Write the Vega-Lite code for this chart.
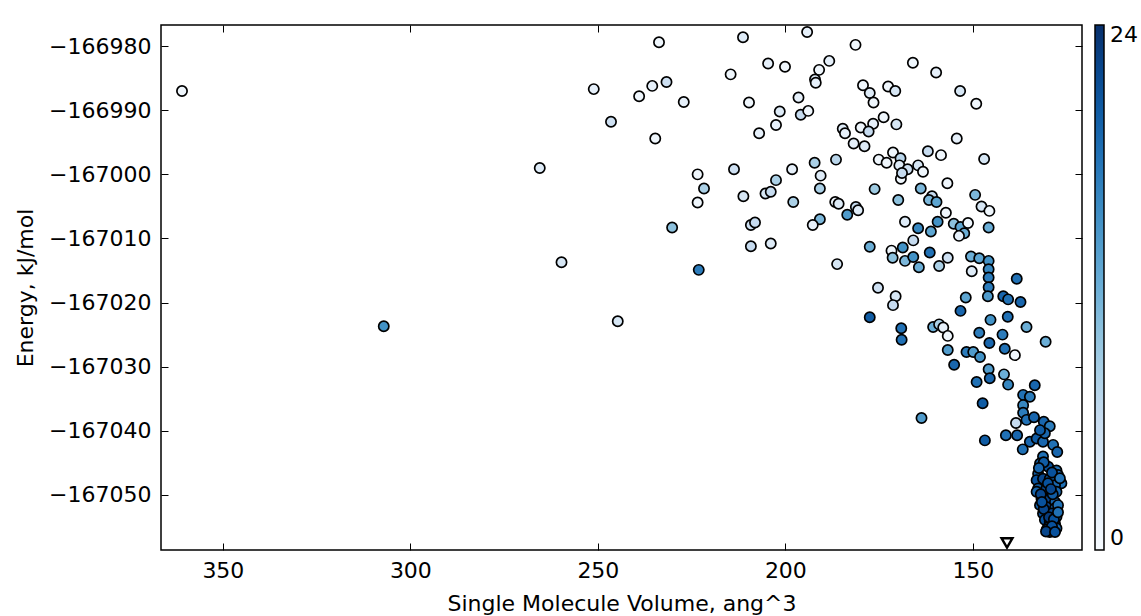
{
  "$schema": "https://vega.github.io/schema/vega-lite/v6.json",
  "width": 921,
  "height": 525,
  "autosize": {"type": "none"},
  "padding": {"left": 161, "top": 25, "right": 59, "bottom": 66},
  "background": "white",
  "config": {
    "view": {"stroke": "black", "strokeWidth": 1.5},
    "axis": {
      "domain": false, "grid": false,
      "tickColor": "black", "tickSize": -7, "tickWidth": 1,
      "labelFont": "DejaVu Sans", "labelFontSize": 22, "labelColor": "black", "labelPadding": 17,
      "titleFont": "DejaVu Sans", "titleFontSize": 22, "titleFontWeight": "normal", "titleColor": "black"
    }
  },
  "datasets": {
    "pts": [
      {"v":360.9,"e":-166987.0,"c":1},{"v":307.1,"e":-167023.7,"c":15},{"v":265.5,"e":-166999.0,"c":3},{"v":259.7,"e":-167013.7,"c":4},
      {"v":244.7,"e":-167022.9,"c":4},{"v":251.1,"e":-166986.7,"c":2},{"v":246.5,"e":-166991.8,"c":5},{"v":239.0,"e":-166987.8,"c":1},
      {"v":235.5,"e":-166986.2,"c":2},{"v":231.7,"e":-166985.6,"c":5},{"v":233.7,"e":-166979.4,"c":1},{"v":227.1,"e":-166988.7,"c":2},
      {"v":234.7,"e":-166994.4,"c":1},{"v":211.3,"e":-166978.6,"c":3},{"v":204.6,"e":-166982.7,"c":2},{"v":214.6,"e":-166984.4,"c":1},
      {"v":209.7,"e":-166988.8,"c":1},{"v":207.0,"e":-166993.6,"c":2},{"v":213.7,"e":-166999.2,"c":5},{"v":223.4,"e":-167000.0,"c":1},
      {"v":221.7,"e":-167002.2,"c":8},{"v":223.4,"e":-167004.4,"c":1},{"v":230.2,"e":-167008.3,"c":10},{"v":223.1,"e":-167014.9,"c":17},
      {"v":211.2,"e":-167003.4,"c":4},{"v":209.2,"e":-167007.9,"c":5},{"v":208.1,"e":-167007.5,"c":6},{"v":209.2,"e":-167011.2,"c":6},
      {"v":203.9,"e":-167010.8,"c":3},{"v":205.3,"e":-167003.0,"c":4},{"v":203.9,"e":-167002.7,"c":6},{"v":202.5,"e":-167000.9,"c":8},
      {"v":194.2,"e":-166977.8,"c":2},{"v":181.3,"e":-166979.8,"c":1},{"v":200.1,"e":-166983.2,"c":1},{"v":188.3,"e":-166982.3,"c":2},
      {"v":191.0,"e":-166983.7,"c":1},{"v":192.1,"e":-166985.2,"c":3},{"v":191.9,"e":-166985.7,"c":2},{"v":166.0,"e":-166982.6,"c":1},
      {"v":196.5,"e":-166988.0,"c":2},{"v":201.5,"e":-166990.2,"c":3},{"v":195.9,"e":-166990.7,"c":6},{"v":193.9,"e":-166990.1,"c":1},
      {"v":202.5,"e":-166992.3,"c":2},{"v":179.3,"e":-166986.1,"c":1},{"v":177.5,"e":-166987.3,"c":3},{"v":176.5,"e":-166988.8,"c":1},
      {"v":172.6,"e":-166986.3,"c":1},{"v":170.7,"e":-166987.0,"c":4},{"v":173.8,"e":-166991.1,"c":1},{"v":170.4,"e":-166992.2,"c":4},
      {"v":176.6,"e":-166992.1,"c":2},{"v":179.9,"e":-166992.7,"c":1},{"v":177.8,"e":-166993.3,"c":6},{"v":184.7,"e":-166992.9,"c":3},
      {"v":184.1,"e":-166993.6,"c":2},{"v":181.8,"e":-166995.2,"c":2},{"v":178.9,"e":-166995.6,"c":3},{"v":192.2,"e":-166998.2,"c":8},
      {"v":186.5,"e":-166997.7,"c":7},{"v":198.2,"e":-166999.2,"c":2},{"v":190.6,"e":-167000.2,"c":3},{"v":175.1,"e":-166997.7,"c":1},
      {"v":173.0,"e":-166998.2,"c":1},{"v":171.3,"e":-166996.6,"c":1},{"v":169.3,"e":-166997.5,"c":7},{"v":169.6,"e":-166998.6,"c":3},
      {"v":167.4,"e":-166999.2,"c":5},{"v":164.6,"e":-166998.6,"c":4},{"v":169.2,"e":-167000.7,"c":1},{"v":168.9,"e":-166999.8,"c":6},
      {"v":159.8,"e":-166984.1,"c":2},{"v":153.4,"e":-166987.0,"c":4},{"v":149.1,"e":-166989.0,"c":1},{"v":154.3,"e":-166994.4,"c":2},
      {"v":162.0,"e":-166996.4,"c":6},{"v":158.5,"e":-166997.0,"c":1},{"v":147.0,"e":-166997.6,"c":4},{"v":163.3,"e":-166999.6,"c":1},
      {"v":190.8,"e":-167002.2,"c":8},{"v":156.8,"e":-167001.4,"c":1},{"v":197.9,"e":-167004.3,"c":8},{"v":186.7,"e":-167004.3,"c":1},
      {"v":185.8,"e":-167004.6,"c":3},{"v":183.5,"e":-167006.3,"c":14},{"v":181.2,"e":-167005.1,"c":6},{"v":180.6,"e":-167005.6,"c":3},
      {"v":190.8,"e":-167007.0,"c":11},{"v":192.7,"e":-167007.9,"c":2},{"v":176.2,"e":-167002.3,"c":9},{"v":169.9,"e":-167004.0,"c":10},
      {"v":163.9,"e":-167002.2,"c":11},{"v":160.9,"e":-167003.4,"c":6},{"v":161.7,"e":-167004.0,"c":11},{"v":159.7,"e":-167004.3,"c":13},
      {"v":157.2,"e":-167006.0,"c":1},{"v":149.4,"e":-167003.2,"c":11},{"v":147.7,"e":-167005.0,"c":4},{"v":145.6,"e":-167005.7,"c":1},
      {"v":145.8,"e":-167008.3,"c":12},{"v":168.1,"e":-167007.4,"c":3},{"v":164.6,"e":-167008.4,"c":16},{"v":161.2,"e":-167008.9,"c":13},
      {"v":159.4,"e":-167007.4,"c":15},{"v":155.1,"e":-167007.7,"c":10},{"v":153.3,"e":-167008.2,"c":13},{"v":152.3,"e":-167009.2,"c":12},
      {"v":153.7,"e":-167009.6,"c":2},{"v":151.3,"e":-167007.6,"c":1},{"v":165.9,"e":-167010.3,"c":6},{"v":168.7,"e":-167011.4,"c":15},
      {"v":171.7,"e":-167011.9,"c":1},{"v":171.4,"e":-167013.0,"c":10},{"v":168.1,"e":-167013.5,"c":11},{"v":165.9,"e":-167012.9,"c":15},
      {"v":164.4,"e":-167014.5,"c":12},{"v":161.5,"e":-167012.2,"c":18},{"v":159.0,"e":-167014.3,"c":8},{"v":156.7,"e":-167013.0,"c":5},
      {"v":150.5,"e":-167012.8,"c":12},{"v":148.3,"e":-167013.1,"c":13},{"v":145.8,"e":-167013.5,"c":15},{"v":145.8,"e":-167014.8,"c":16},
      {"v":145.8,"e":-167016.1,"c":17},{"v":145.8,"e":-167017.6,"c":17},{"v":150.3,"e":-167015.1,"c":3},{"v":138.3,"e":-167016.3,"c":18},
      {"v":146.0,"e":-167019.0,"c":14},{"v":141.9,"e":-167019.0,"c":19},{"v":140.6,"e":-167019.5,"c":18},{"v":137.3,"e":-167019.9,"c":19},
      {"v":151.9,"e":-167019.2,"c":13},{"v":153.3,"e":-167021.3,"c":19},{"v":177.5,"e":-167011.3,"c":12},{"v":186.2,"e":-167014.0,"c":4},
      {"v":175.3,"e":-167017.7,"c":5},{"v":170.6,"e":-167019.0,"c":4},{"v":171.3,"e":-167020.4,"c":6},{"v":177.5,"e":-167022.3,"c":20},
      {"v":169.1,"e":-167024.0,"c":18},{"v":169.0,"e":-167025.8,"c":18},{"v":145.3,"e":-167022.7,"c":15},{"v":140.7,"e":-167022.2,"c":18},
      {"v":135.7,"e":-167023.8,"c":12},{"v":160.6,"e":-167023.8,"c":12},{"v":159.0,"e":-167023.4,"c":8},{"v":157.9,"e":-167023.9,"c":2},
      {"v":156.7,"e":-167025.2,"c":1},{"v":156.7,"e":-167027.4,"c":14},{"v":155.0,"e":-167029.7,"c":19},{"v":148.3,"e":-167024.7,"c":17},
      {"v":130.6,"e":-167026.1,"c":12},{"v":145.6,"e":-167026.3,"c":19},{"v":142.1,"e":-167025.0,"c":17},{"v":151.7,"e":-167027.7,"c":17},
      {"v":149.9,"e":-167027.7,"c":14},{"v":148.1,"e":-167028.5,"c":15},{"v":141.5,"e":-167027.2,"c":18},
      {"v":145.8,"e":-167030.4,"c":14},{"v":141.7,"e":-167031.2,"c":12},{"v":149.0,"e":-167032.4,"c":18},{"v":145.5,"e":-167031.8,"c":19},
      {"v":140.6,"e":-167032.8,"c":16},{"v":133.5,"e":-167032.9,"c":19},{"v":147.4,"e":-167035.7,"c":20},{"v":163.7,"e":-167038.0,"c":14},
      {"v":136.6,"e":-167034.4,"c":18},{"v":134.8,"e":-167034.7,"c":17},{"v":136.6,"e":-167036.0,"c":16},{"v":136.6,"e":-167037.2,"c":17},
      {"v":135.7,"e":-167038.3,"c":18},{"v":133.7,"e":-167037.9,"c":19},{"v":131.1,"e":-167038.6,"c":19},{"v":129.5,"e":-167039.3,"c":17},
      {"v":141.2,"e":-167040.7,"c":18},{"v":138.2,"e":-167040.7,"c":19},{"v":146.8,"e":-167041.5,"c":20},
      {"v":136.7,"e":-167042.9,"c":18},{"v":134.8,"e":-167041.7,"c":19},{"v":133.0,"e":-167041.2,"c":20},{"v":131.3,"e":-167041.7,"c":19},
      {"v":128.6,"e":-167042.2,"c":18},{"v":127.5,"e":-167043.3,"c":19},{"v":130.8,"e":-167040.4,"c":19},{"v":132.1,"e":-167039.9,"c":20},
      {"v":131.3,"e":-167044.0,"c":18},{"v":132.1,"e":-167045.1,"c":19},{"v":129.9,"e":-167045.6,"c":21},{"v":127.7,"e":-167046.2,"c":18},
      {"v":127.3,"e":-167046.9,"c":19},{"v":126.4,"e":-167048.2,"c":18},{"v":132.6,"e":-167046.7,"c":20},{"v":133.0,"e":-167047.7,"c":21},
      {"v":131.3,"e":-167047.5,"c":22},{"v":129.5,"e":-167047.5,"c":20},{"v":128.1,"e":-167048.5,"c":19},{"v":132.6,"e":-167049.0,"c":20},
      {"v":130.4,"e":-167049.0,"c":22},{"v":127.7,"e":-167049.5,"c":19},{"v":133.0,"e":-167049.5,"c":19},{"v":131.7,"e":-167050.6,"c":21},
      {"v":129.5,"e":-167050.6,"c":22},{"v":128.1,"e":-167051.1,"c":19},{"v":132.1,"e":-167051.6,"c":20},{"v":130.4,"e":-167051.9,"c":22},
      {"v":128.1,"e":-167052.1,"c":19},{"v":131.3,"e":-167052.9,"c":21},{"v":129.0,"e":-167052.9,"c":22},{"v":127.7,"e":-167053.4,"c":19},
      {"v":130.8,"e":-167053.9,"c":21},{"v":129.5,"e":-167054.2,"c":22},{"v":128.1,"e":-167054.5,"c":20},{"v":129.9,"e":-167055.0,"c":22},
      {"v":128.6,"e":-167055.5,"c":22},{"v":129.5,"e":-167055.8,"c":23},{"v":127.7,"e":-167055.2,"c":19},
      {"v":131.1,"e":-167044.9,"c":20},{"v":128.9,"e":-167046.5,"c":21},{"v":131.9,"e":-167049.9,"c":22},{"v":130.0,"e":-167048.2,"c":21},
      {"v":128.7,"e":-167049.9,"c":20},{"v":131.1,"e":-167052.2,"c":22},{"v":127.3,"e":-167051.6,"c":18},{"v":129.7,"e":-167053.5,"c":23},
      {"v":128.4,"e":-167053.8,"c":21},{"v":130.3,"e":-167055.4,"c":22},{"v":127.3,"e":-167052.7,"c":18},{"v":126.8,"e":-167047.4,"c":18},
      {"v":132.4,"e":-167045.8,"c":19},{"v":131.6,"e":-167051.1,"c":21},{"v":129.2,"e":-167049.1,"c":22},{"v":128.9,"e":-167054.9,"c":21},
      {"v":130.5,"e":-167055.7,"c":22},{"v":128.1,"e":-167055.8,"c":21},
      {"v":138.8,"e":-167028.2,"c":1},{"v":138.5,"e":-167038.8,"c":6}
    ],
    "tri": [
      {"v":140.9,"e":-167057.5}
    ]
  },
  "layer": [
    {
      "data": {"name": "pts"},
      "mark": {"type": "circle", "size": 105, "stroke": "black", "strokeWidth": 1.7, "opacity": 1},
      "encoding": {
        "x": {
          "field": "v", "type": "quantitative",
          "scale": {"domain": [120.9, 366.5], "reverse": true, "nice": false, "zero": false},
          "axis": {"orient": "bottom", "values": [350, 300, 250, 200, 150], "title": "Single Molecule Volume, ang^3", "titleBaseline": "alphabetic", "titleY": 60}
        },
        "y": {
          "field": "e", "type": "quantitative",
          "scale": {"domain": [-167058.6, -166976.7], "nice": false, "zero": false},
          "axis": {"orient": "left", "values": [-166980, -166990, -167000, -167010, -167020, -167030, -167040, -167050], "format": "d", "title": "Energy, kJ/mol", "titleX": -129, "titleY": 262.5, "titleAngle": -90, "titleAlign": "center", "titleBaseline": "alphabetic"}
        },
        "color": {
          "field": "c", "type": "quantitative",
          "scale": {"domain": [0, 3, 6, 9, 12, 15, 18, 21, 24], "range": ["#f7fbff", "#deebf7", "#c6dbef", "#9ecae1", "#6baed6", "#4292c6", "#2171b5", "#08519c", "#08306b"], "interpolate": "rgb"},
          "legend": {
            "orient": "none", "legendX": 934, "legendY": 0, "direction": "vertical",
            "gradientLength": 525, "gradientThickness": 9, "title": null, "values": [0, 24],
            "labelFont": "DejaVu Sans", "labelFontSize": 22, "labelColor": "black", "labelOffset": 6,
            "gradientStrokeColor": "black", "gradientStrokeWidth": 1.5, "padding": 0, "labelOverlap": false,
            "encode": {"labels": {"update": {"baseline": {"value": "middle"}}}}
          }
        }
      }
    },
    {
      "data": {"name": "tri"},
      "mark": {"type": "point", "shape": "triangle-down", "size": 120, "filled": true, "fill": "white", "stroke": "black", "strokeWidth": 2.4, "opacity": 1},
      "encoding": {
        "x": {"field": "v", "type": "quantitative", "axis": {"orient": "top", "values": [350, 300, 250, 200, 150], "labels": false, "title": null}},
        "y": {"field": "e", "type": "quantitative", "axis": {"orient": "right", "values": [-166980, -166990, -167000, -167010, -167020, -167030, -167040, -167050], "labels": false, "title": null}}
      }
    }
  ]
}
